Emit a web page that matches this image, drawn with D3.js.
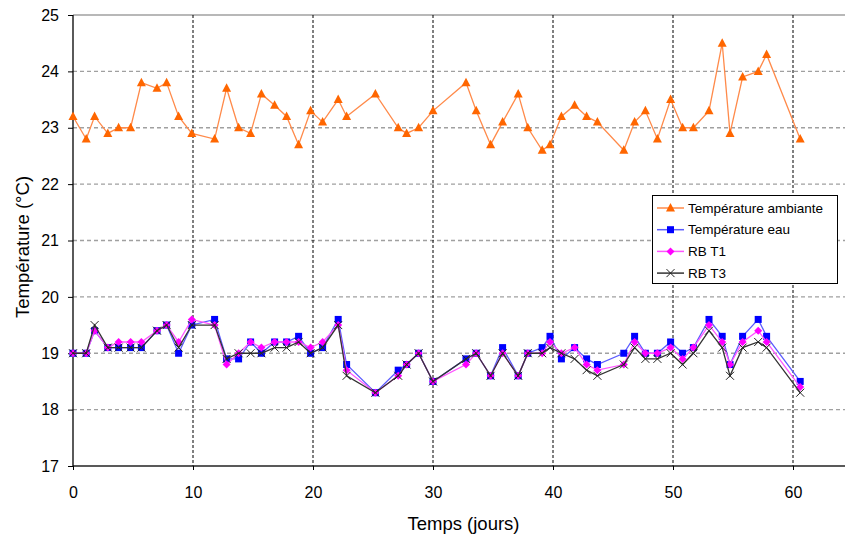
<!DOCTYPE html>
<html><head><meta charset="utf-8">
<script src="https://cdn.jsdelivr.net/npm/d3@7"></script>
<style>body{margin:0;background:#fff}svg{display:block}text{font-family:"Liberation Sans",Arial,sans-serif}</style>
</head><body>
<svg id="c" width="845" height="537"></svg>
<script>
const days = [0,1.1,1.8,2.9,3.8,4.8,5.7,7.0,7.8,8.8,9.9,11.8,12.8,13.8,14.8,15.7,16.8,17.8,18.8,19.8,20.8,22.1,
  22.8,25.2,27.1,27.8,28.8,30.0,32.75,33.6,34.8,35.8,37.1,37.9,39.1,39.75,40.7,41.8,42.8,43.7,
  45.9,46.8,47.7,48.7,49.8,50.8,51.7,53.0,54.1,54.75,55.8,57.1,57.8,60.6];
const ambiante = [23.2,22.8,23.2,22.9,23.0,23.0,23.8,23.7,23.8,23.2,22.9,22.8,23.7,23.0,22.9,23.6,23.4,23.2,22.7,23.3,23.1,23.5,
  23.2,23.6,23.0,22.9,23.0,23.3,23.8,23.3,22.7,23.1,23.6,23.0,22.6,22.7,23.2,23.4,23.2,23.1,
  22.6,23.1,23.3,22.8,23.5,23.0,23.0,23.3,24.5,22.9,23.9,24.0,24.3,22.8];
const eau = [19.0,19.0,19.4,19.1,19.1,19.1,19.1,19.4,19.5,19.0,19.5,19.6,18.9,18.9,19.2,19.0,19.2,19.2,19.3,19.0,19.1,19.6,
  18.8,18.3,18.7,18.8,19.0,18.5,18.9,19.0,18.6,19.1,18.6,19.0,19.1,19.3,18.9,19.1,18.9,18.8,
  19.0,19.3,19.0,19.0,19.2,19.0,19.1,19.6,19.3,18.8,19.3,19.6,19.3,18.5];
const rbT1 = [19.0,19.0,19.4,19.1,19.2,19.2,19.2,19.4,19.5,19.2,19.6,19.5,18.8,19.0,19.2,19.1,19.2,19.2,19.2,19.1,19.2,19.5,
  18.7,18.3,18.6,18.8,19.0,18.5,18.8,19.0,18.6,19.0,18.6,19.0,19.0,19.2,19.0,19.1,18.8,18.7,
  18.8,19.2,19.0,19.0,19.1,18.9,19.1,19.5,19.2,18.8,19.2,19.4,19.2,18.4];
const rbT3 = [19.0,19.0,19.5,19.1,19.1,19.1,19.1,19.4,19.5,19.1,19.5,19.5,18.9,19.0,19.0,19.0,19.1,19.1,19.2,19.0,19.1,19.5,
  18.6,18.3,18.6,18.8,19.0,18.5,18.9,19.0,18.6,19.0,18.6,19.0,19.0,19.1,19.0,18.9,18.7,18.6,
  18.8,19.1,18.9,18.9,19.0,18.8,19.0,19.4,19.1,18.6,19.1,19.2,19.1,18.3];
const seriesNames = ["Température ambiante","Température eau","RB T1","RB T3"];
const xTicks = [0,10,20,30,40,50,60];
const yTicks = [17,18,19,20,21,22,23,24,25];

const svg = d3.select("#c");
const x = d3.scaleLinear().domain([0,64.333]).range([73,845]);
const y = d3.scaleLinear().domain([17,25]).range([466,15]);

// horizontal gridlines
svg.append("g").selectAll("line").data(yTicks.filter(t=>t>17)).join("line")
  .attr("x1",x(0)).attr("x2",845).attr("y1",d=>y(d)).attr("y2",d=>y(d))
  .attr("stroke","#a0a0a0").attr("stroke-width",1.3)
  .attr("stroke-dasharray",d=>d===25?null:"4,3");
// vertical gridlines
svg.append("g").selectAll("line").data(xTicks.filter(t=>t>0)).join("line")
  .attr("x1",d=>x(d)).attr("x2",d=>x(d)).attr("y1",y(25)).attr("y2",y(17))
  .attr("stroke","#000").attr("stroke-width",1).attr("stroke-dasharray","3,2");

// axes
const xAxis = svg.append("g").attr("transform",`translate(0,${y(17)})`)
  .call(d3.axisBottom(x).tickValues(xTicks).tickSize(4).tickPadding(17));
xAxis.select(".domain").attr("d",`M${x(0)},0H845`).attr("stroke","#222").attr("stroke-width",1.3);
xAxis.selectAll("text").attr("font-size",16).attr("fill","#000");
const yAxis = svg.append("g").attr("transform",`translate(${x(0)},0)`)
  .call(d3.axisLeft(y).tickValues(yTicks).tickSize(5).tickPadding(9));
yAxis.select(".domain").attr("d",`M0,${y(25)}V${y(17)}`).attr("stroke","#000").attr("stroke-width",1.3);
yAxis.selectAll("text").attr("font-size",16).attr("fill","#000");

const cfg = [
  {data:ambiante, line:"#FF8A4A", mark:"#FF6600", sym:"tri"},
  {data:eau, line:"#5C5CFF", mark:"#0000FF", sym:"sq"},
  {data:rbT1, line:"#FF55FF", mark:"#FF00FF", sym:"dia"},
  {data:rbT3, line:"#333", mark:"#222", sym:"x"}
];
function drawSym(g, sym, color, cx, cy){
  if(sym==="tri") g.append("path").attr("d",`M${cx},${cy-5}L${cx+4.5},${cy+3.5}L${cx-4.5},${cy+3.5}Z`).attr("fill",color);
  else if(sym==="sq") g.append("rect").attr("x",cx-3.5).attr("y",cy-3.5).attr("width",7).attr("height",7).attr("fill",color);
  else if(sym==="dia") g.append("path").attr("d",`M${cx},${cy-4}L${cx+4},${cy}L${cx},${cy+4}L${cx-4},${cy}Z`).attr("fill",color);
  else g.append("path").attr("d",`M${cx-4},${cy-4}L${cx+4},${cy+4}M${cx-4},${cy+4}L${cx+4},${cy-4}`).attr("stroke",color).attr("stroke-width",1);
}
const line = d3.line().x((d,i)=>x(days[i])).y(d=>y(d));
cfg.forEach(c=>{
  const g = svg.append("g");
  g.append("path").datum(c.data).attr("d",line).attr("fill","none").attr("stroke",c.line).attr("stroke-width",1.3);
  c.data.forEach((v,i)=>drawSym(g,c.sym,c.mark,x(days[i]),y(v)));
});

// legend
const lg = svg.append("g");
lg.append("rect").attr("x",652.5).attr("y",195.5).attr("width",185).attr("height",88).attr("fill","#fff").attr("stroke","#000");
cfg.forEach((c,i)=>{
  const yy = 208 + i*21.7;
  lg.append("line").attr("x1",657).attr("x2",684).attr("y1",yy).attr("y2",yy).attr("stroke",c.line).attr("stroke-width",1.5);
  drawSym(lg,c.sym,c.mark,670.5,yy);
  lg.append("text").attr("x",688).attr("y",yy+4.5).attr("font-size",13.5).text(seriesNames[i]);
});

// axis titles
svg.append("text").attr("x",463.5).attr("y",530).attr("text-anchor","middle").attr("font-size",18.5).text("Temps (jours)");
svg.append("text").attr("transform","translate(29,247) rotate(-90)").attr("text-anchor","middle").attr("font-size",18.5).text("Température (°C)");
</script>
</body></html>
